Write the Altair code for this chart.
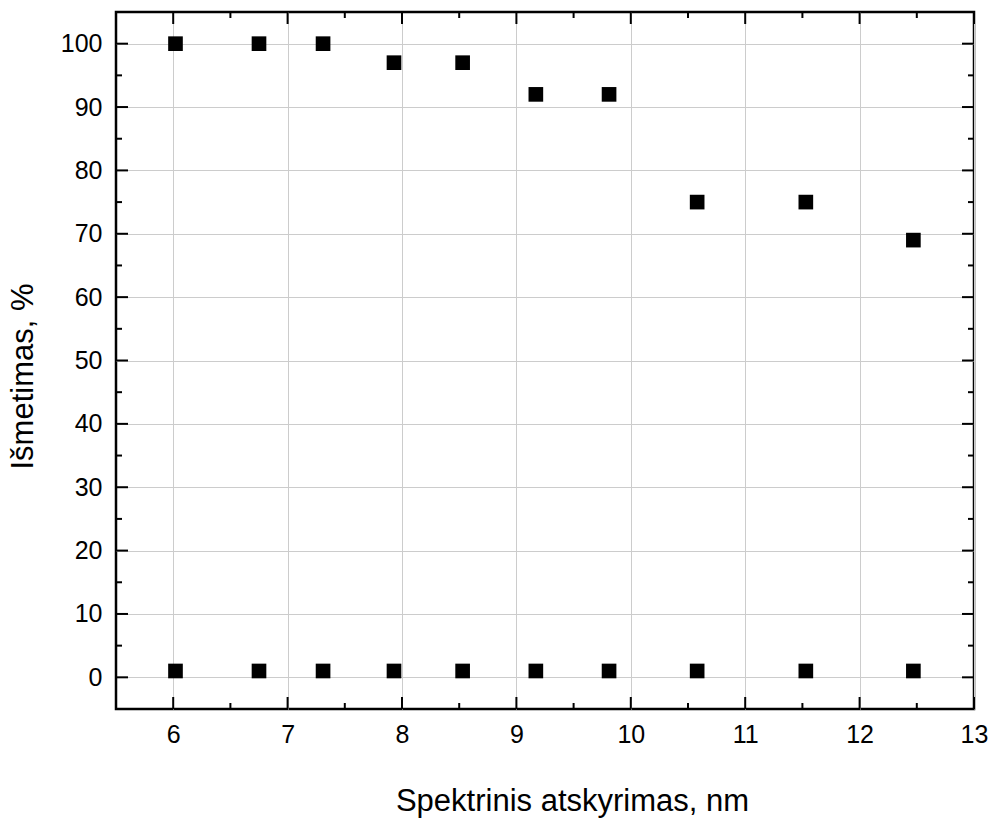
import altair as alt
import pandas as pd

x_vals = [6.02, 6.75, 7.31, 7.93, 8.53, 9.17, 9.81, 10.58, 11.53, 12.47]
upper = [100, 100, 100, 97, 97, 92, 92, 75, 75, 69]
lower = [1, 1, 1, 1, 1, 1, 1, 1, 1, 1]

x_major = [6, 7, 8, 9, 10, 11, 12, 13]
x_minor = [6.5, 7.5, 8.5, 9.5, 10.5, 11.5, 12.5]
y_major = [0, 10, 20, 30, 40, 50, 60, 70, 80, 90, 100]
y_minor = [5, 15, 25, 35, 45, 55, 65, 75, 85, 95]

W, H = 858, 697
FONT = "Liberation Sans"

pts = pd.DataFrame({"x": x_vals * 2, "y": upper + lower})

xs = alt.Scale(domain=[5.5, 13], nice=False, zero=False)
ys = alt.Scale(domain=[-5, 105], nice=False, zero=False)

points = alt.Chart(pts).mark_square(size=215, color="black", opacity=1).encode(
    x=alt.X("x:Q", scale=xs,
            axis=alt.Axis(values=x_major, title="Spektrinis atskyrimas, nm",
                          labelPadding=13, titlePadding=39, format="d",
                          titleX=456)),
    y=alt.Y("y:Q", scale=ys,
            axis=alt.Axis(values=y_major, title="Išmetimas, %",
                          labelPadding=14, titlePadding=21, format="d",
                          titleY=364)),
)

def xticks(vals, length, yoff):
    return alt.Chart(pd.DataFrame({"v": vals})).mark_tick(
        orient="vertical", size=length, thickness=2, color="black", opacity=1
    ).encode(x=alt.X("v:Q", scale=xs), y=alt.value(yoff))

def yticks(vals, length, xoff):
    return alt.Chart(pd.DataFrame({"v": vals})).mark_tick(
        orient="horizontal", size=length, thickness=2, color="black", opacity=1
    ).encode(y=alt.Y("v:Q", scale=ys), x=alt.value(xoff))

layers = [
    points,
    xticks(x_major, 12, H - 6), xticks(x_major, 12, 6),
    xticks(x_minor, 6, H - 3), xticks(x_minor, 6, 3),
    yticks(y_major, 12, 6), yticks(y_major, 12, W - 6),
    yticks(y_minor, 6, 3), yticks(y_minor, 6, W - 3),
]

chart = alt.layer(*layers).properties(
    width=W, height=H,
    autosize=alt.AutoSizeParams(type="none"),
    padding={"left": 116, "top": 12, "right": 16, "bottom": 114},
    background="white",
).configure_view(stroke="black", strokeWidth=2.5).configure_axis(
    grid=True, gridColor="#cccccc", gridWidth=1, ticks=False, domain=False,
    labelFontSize=25, labelFont=FONT, labelColor="black", labelFlush=False,
    titleFontSize=31, titleFont=FONT, titleFontWeight="normal", titleColor="black",
)

chart.save("out.html", embed_options={"renderer": "svg", "actions": False})
